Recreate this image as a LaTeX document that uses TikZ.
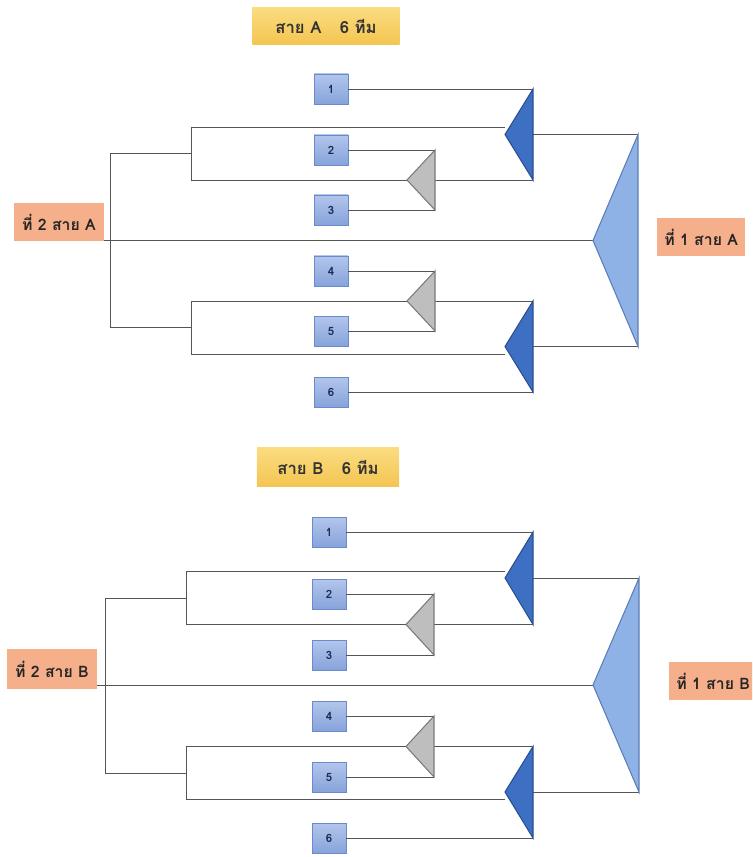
\documentclass[tikz,border=0pt]{standalone}
\usepackage{fontspec}
\newfontfamily\thaifont[Script=Thai]{Loma}
\usetikzlibrary{calc}

\definecolor{teamtop}{HTML}{B3C6EC}
\definecolor{teambot}{HTML}{86A3DA}
\definecolor{teamedge}{HTML}{6A8ACB}
\definecolor{digit}{HTML}{1E2A50}
\definecolor{titletop}{HTML}{FADC80}
\definecolor{titlebot}{HTML}{F4C552}
\definecolor{placefill}{HTML}{F5AF8A}
\definecolor{winfill}{HTML}{3D70C3}
\definecolor{winedge}{HTML}{2B4E8E}
\definecolor{semifill}{HTML}{BEBEBE}
\definecolor{semiedge}{HTML}{7A7A7A}
\definecolor{finalfill}{HTML}{8EB2E5}
\definecolor{finaledge}{HTML}{5C7DB6}
\definecolor{linegray}{HTML}{555555}

\begin{document}
\begin{tikzpicture}[x=0.02cm,y=-0.02cm,
  wire/.style={draw=linegray,line width=0.55pt},
  team/.style={draw=teamedge,top color=teamtop,bottom color=teambot,minimum width=0.68cm,minimum height=0.6cm,inner sep=0pt,text=digit,font=\thaifont\bfseries\fontsize{6.5}{7}\selectfont},
  title/.style={top color=titletop,bottom color=titlebot,minimum width=2.95cm,minimum height=0.74cm,inner sep=0pt,text=black!80,font=\thaifont\bfseries\fontsize{9.5}{11}\selectfont},
  place/.style={fill=placefill,minimum height=0.75cm,inner xsep=4pt,inner ysep=0pt,text=black!85,font=\thaifont\bfseries\fontsize{9}{11}\selectfont},
  win/.style={fill=winfill,draw=winedge,line width=0.6pt},
  semi/.style={fill=semifill,draw=semiedge,line width=0.6pt},
  final/.style={fill=finalfill,draw=finaledge,line width=0.6pt}]

\useasboundingbox (0,0) rectangle (752,857);
\clip (0,0) rectangle (752,857);

% ----- สาย A
\node [title] (At) at (326,26) {สาย A\hspace{1.1em}6 ทีม};
\node [team] (A1) at (331,89) {1};
\node [team] (A2) at (331,150) {2};
\node [team] (A3) at (331,210) {3};
\node [team] (A4) at (331,271) {4};
\node [team] (A5) at (331,331) {5};
\node [team] (A6) at (331,392) {6};
\node [place,minimum width=1.8cm] (Ap2) at (59,222) {ที่ 2 สาย A};
\node [place,anchor=west] (Ap1) at (657,237) {ที่ 1 สาย A};

\coordinate (Ag1t) at (435,150);
\coordinate (Ag1b) at (435,210);
\coordinate (Ag1a) at (407,180);
\coordinate (Ag2t) at (435,271);
\coordinate (Ag2b) at (435,331);
\coordinate (Ag2a) at (407,301);
\coordinate (Aw1t) at (533,89);
\coordinate (Aw1b) at (533,180);
\coordinate (Aw1a) at (505,134.5);
\coordinate (Aw2t) at (533,301);
\coordinate (Aw2b) at (533,392);
\coordinate (Aw2a) at (505,346.5);
\coordinate (Aft) at (638,134.5);
\coordinate (Afb) at (638,346.5);
\coordinate (Afa) at (593,240.5);
\coordinate (Ak1) at (191,127);
\coordinate (Ak2) at (191,354);
\coordinate (Am1) at (191,153.5);
\coordinate (Am2) at (191,327.5);
\coordinate (Ao1) at (110,153.5);
\coordinate (Ao2) at (110,327.5);

\draw [wire] (A1.east) -- (Aw1t);
\draw [wire] (A2.east) -- (Ag1t);
\draw [wire] (A3.east) -- (Ag1b);
\draw [wire] (A4.east) -- (Ag2t);
\draw [wire] (A5.east) -- (Ag2b);
\draw [wire] (A6.east) -- (Aw2b);
\draw [wire] (Ag1a) -- (Aw1b);
\draw [wire] (Ag2a) -- (Aw2t);
\draw [wire] (Aw1a) -- (Aft);
\draw [wire] (Aw2a) -- (Afb);
\draw [wire] (Ak1 -| Aw1a) -- (Ak1) |- (Ag1a);
\draw [wire] (Ag2a) -| (Ak2) -- (Ak2 -| Aw2a);
\draw [wire] (Am1) -- (Ao1) -- (Ao2) -- (Am2);
\draw [wire] (Ap2.east |- Afa) -- (Afa);

\filldraw [semi] (Ag1t) -- (Ag1b) -- (Ag1a) -- cycle;
\filldraw [semi] (Ag2t) -- (Ag2b) -- (Ag2a) -- cycle;
\filldraw [win] (Aw1t) -- (Aw1b) -- (Aw1a) -- cycle;
\filldraw [win] (Aw2t) -- (Aw2b) -- (Aw2a) -- cycle;
\filldraw [final] (Aft) -- (Afb) -- (Afa) -- cycle;

% ----- สาย B
\node [title,minimum width=2.85cm,minimum height=0.78cm] (Bt) at (328,467) {สาย B\hspace{1.1em}6 ทีม};
\node [team] (B1) at (329,532) {1};
\node [team] (B2) at (329,594) {2};
\node [team] (B3) at (329,655) {3};
\node [team] (B4) at (329,716) {4};
\node [team] (B5) at (329,777) {5};
\node [team] (B6) at (329,838) {6};
\node [place,minimum width=1.8cm,minimum height=0.8cm] (Bp2) at (52,669) {ที่ 2 สาย B};
\node [place,anchor=west] (Bp1) at (669,681) {ที่ 1 สาย B};

\coordinate (Bg1t) at (434,594);
\coordinate (Bg1b) at (434,655);
\coordinate (Bg1a) at (406,624.5);
\coordinate (Bg2t) at (434,716);
\coordinate (Bg2b) at (434,777);
\coordinate (Bg2a) at (406,746.5);
\coordinate (Bw1t) at (533,532);
\coordinate (Bw1b) at (533,624.5);
\coordinate (Bw1a) at (505,578);
\coordinate (Bw2t) at (533,746.5);
\coordinate (Bw2b) at (533,838);
\coordinate (Bw2a) at (505,792);
\coordinate (Bft) at (639,578);
\coordinate (Bfb) at (639,792);
\coordinate (Bfa) at (593,685);
\coordinate (Bk1) at (186,571);
\coordinate (Bk2) at (186,799);
\coordinate (Bm1) at (186,598);
\coordinate (Bm2) at (186,773);
\coordinate (Bo1) at (105,598);
\coordinate (Bo2) at (105,773);

\draw [wire] (B1.east) -- (Bw1t);
\draw [wire] (B2.east) -- (Bg1t);
\draw [wire] (B3.east) -- (Bg1b);
\draw [wire] (B4.east) -- (Bg2t);
\draw [wire] (B5.east) -- (Bg2b);
\draw [wire] (B6.east) -- (Bw2b);
\draw [wire] (Bg1a) -- (Bw1b);
\draw [wire] (Bg2a) -- (Bw2t);
\draw [wire] (Bw1a) -- (Bft);
\draw [wire] (Bw2a) -- (Bfb);
\draw [wire] (Bk1 -| Bw1a) -- (Bk1) |- (Bg1a);
\draw [wire] (Bg2a) -| (Bk2) -- (Bk2 -| Bw2a);
\draw [wire] (Bm1) -- (Bo1) -- (Bo2) -- (Bm2);
\draw [wire] (Bp2.east |- Bfa) -- (Bfa);

\filldraw [semi] (Bg1t) -- (Bg1b) -- (Bg1a) -- cycle;
\filldraw [semi] (Bg2t) -- (Bg2b) -- (Bg2a) -- cycle;
\filldraw [win] (Bw1t) -- (Bw1b) -- (Bw1a) -- cycle;
\filldraw [win] (Bw2t) -- (Bw2b) -- (Bw2a) -- cycle;
\filldraw [final] (Bft) -- (Bfb) -- (Bfa) -- cycle;

\end{tikzpicture}
\end{document}
